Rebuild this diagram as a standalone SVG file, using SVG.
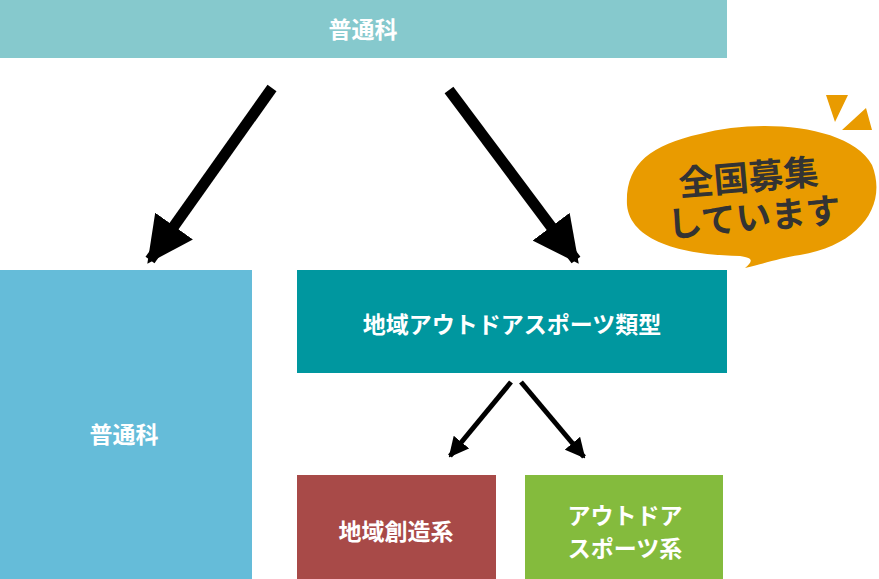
<svg xmlns="http://www.w3.org/2000/svg" width="879" height="579" viewBox="0 0 879 579">
<style>
.t{font-family:"Noto Sans CJK JP","Noto Sans CJK SC",serif;font-weight:bold;fill:#fff;font-size:23px;text-anchor:middle;dominant-baseline:central}
.b{font-family:"Noto Sans CJK JP",sans-serif;font-weight:bold;fill:#333;font-size:35px;text-anchor:middle}
.big{stroke:#000;stroke-width:11;fill:none}
.sm{stroke:#000;stroke-width:5;fill:none}
</style>
<defs>
<marker id="ah" viewBox="0 0 10 10" refX="9" refY="5" markerWidth="4.2" markerHeight="4.2" orient="auto" markerUnits="strokeWidth"><path d="M0,0L10,5L0,10z" fill="#000"/></marker>
<marker id="as" viewBox="0 0 10 10" refX="9" refY="5" markerWidth="4" markerHeight="4" orient="auto" markerUnits="strokeWidth"><path d="M0,0L10,5L0,10z" fill="#000"/></marker>
</defs>
<g id="top"><rect x="0" y="0" width="727" height="58" fill="#86c9cd"/><text class="t" x="363" y="28">普通科</text></g>
<g id="left"><rect x="0" y="270" width="252" height="309" fill="#65bcd9"/><text class="t" x="124" y="433">普通科</text></g>
<g id="outdoor"><rect x="297" y="270" width="430" height="103" fill="#00979f"/><text class="t" x="512" y="323">地域アウトドアスポーツ類型</text></g>
<g id="chiiki"><rect x="297" y="475" width="199" height="104" fill="#a84a48"/><text class="t" x="396" y="530">地域創造系</text></g>
<g id="sports"><rect x="525" y="475" width="198" height="104" fill="#84bb3d"/><text class="t" x="625" y="514">アウトドア</text><text class="t" x="625" y="547">スポーツ系</text></g>
<g id="connectors">
<line class="big" x1="272" y1="88" x2="150" y2="260" marker-end="url(#ah)"/>
<line class="big" x1="449" y1="90" x2="576" y2="260" marker-end="url(#ah)"/>
<line class="sm" x1="511" y1="382" x2="450" y2="456" marker-end="url(#as)"/>
<line class="sm" x1="521" y1="382" x2="584" y2="457" marker-end="url(#as)"/>
</g>
<g id="badge">
<path d="M826,95L848,95L835,122z M866,108L872,130L842,130z" fill="#e99b00"/>
<path d="M700,134C760,118 850,125 872,165C888,205 860,245 800,255C780,258 770,262 745,268C752,262 755,258 740,256C680,255 630,240 627,205C625,165 650,145 700,134z" fill="#e99b00"/>
<g transform="rotate(-5 750 195)"><text class="b" x="750" y="190">全国募集</text><text class="b" x="752" y="230">しています</text></g>
</g>
</svg>
